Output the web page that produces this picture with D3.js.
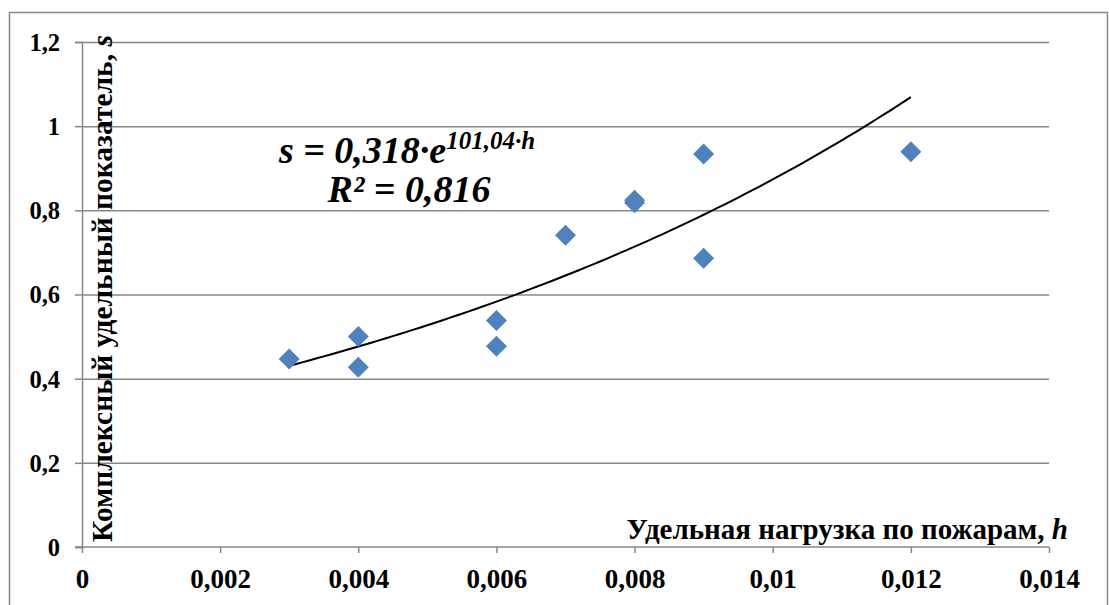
<!DOCTYPE html>
<html>
<head>
<meta charset="utf-8">
<script src="https://cdn.jsdelivr.net/npm/d3@7"></script>
<style>
  html, body { margin: 0; padding: 0; background: #fff; }
  svg { display: block; }
</style>
</head>
<body>
<svg id="chart" width="1109" height="605"></svg>
<script>
// Observations: specific fire load h vs. complex specific indicator s
const loadH = [0.003, 0.004, 0.004, 0.006, 0.006, 0.007, 0.008, 0.008, 0.009, 0.009, 0.012];
const indexS = [0.447, 0.500, 0.427, 0.538, 0.477, 0.741, 0.818, 0.824, 0.934, 0.686, 0.939];

// Exponential trend s = a·e^(b·h)
const trendA = 0.318;
const trendB = 101.04;
const trendR2 = "0,816";

const xTicks = [0, 0.002, 0.004, 0.006, 0.008, 0.010, 0.012, 0.014];
const xTickLabels = ["0", "0,002", "0,004", "0,006", "0,008", "0,01", "0,012", "0,014"];
const yTicks = [0, 0.2, 0.4, 0.6, 0.8, 1.0, 1.2];
const yTickLabels = ["0", "0,2", "0,4", "0,6", "0,8", "1", "1,2"];

const FONT = "'Liberation Serif', 'Times New Roman', Times, 'DejaVu Serif', serif";
const svg = d3.select("#chart")
  .attr("font-family", FONT).attr("font-weight", "bold");
const W = 1109, H = 605;
const gridColor = "#878787";
const pointColor = "#4F81BD";

svg.append("rect").attr("width", W).attr("height", H).attr("fill", "#fff");

// chart frame (runs past the bottom edge)
svg.append("rect")
  .attr("x", 9.5).attr("y", 12.5).attr("width", 1098).attr("height", 640)
  .attr("fill", "none").attr("stroke", "#8a8a8a").attr("stroke-width", 1.5);

const x = d3.scaleLinear().domain([0, 0.014]).range([82, 1049]);
const y = d3.scaleLinear().domain([0, 1.2]).range([547, 42]);

function txt(sel, size) {
  return sel.attr("font-family", FONT).style("font-family", FONT).style("font-weight", "bold")
    .style("font-size", size + "px").attr("fill", "#000");
}

// horizontal gridlines + y ticks
const yAxis = d3.axisLeft(y).tickValues(yTicks).tickSize(7).tickFormat((d, i) => yTickLabels[i]);
const gy = svg.append("g").attr("transform", `translate(${x(0)},0)`).call(yAxis)
  .attr("font-family", FONT);
gy.select(".domain").attr("stroke", gridColor).attr("stroke-width", 1.5);
gy.selectAll(".tick line").attr("stroke", gridColor).attr("stroke-width", 1.5);
gy.selectAll(".tick").filter(d => d > 0).append("line")
  .attr("x1", 0).attr("x2", x(0.014) - x(0))
  .attr("stroke", gridColor).attr("stroke-width", 1.5);
txt(gy.selectAll(".tick text"), 24.5)
  .attr("x", -22).attr("dy", "0.34em");

// x axis
const xAxis = d3.axisBottom(x).tickValues(xTicks).tickSize(6).tickSizeOuter(0).tickFormat((d, i) => xTickLabels[i]);
const gx = svg.append("g").attr("transform", `translate(0,${y(0)})`).call(xAxis)
  .attr("font-family", FONT);
gx.select(".domain").attr("stroke", gridColor).attr("stroke-width", 1.5)
  .attr("d", `M${x(0) - 7},0H${x(0.014)}`);
gx.selectAll(".tick line").attr("stroke", gridColor).attr("stroke-width", 1.5);
txt(gx.selectAll(".tick text"), 27)
  .attr("y", 41).attr("dy", 0);

// trend curve
const hs = d3.range(0.003, 0.012 + 1e-9, 0.0001);
const trendLine = d3.line().x(h => x(h)).y(h => y(trendA * Math.exp(trendB * h)));
svg.append("path").datum(hs)
  .attr("d", trendLine)
  .attr("fill", "none").attr("stroke", "#000").attr("stroke-width", 2);

// points (diamonds)
const diamond = d3.symbol().type(d3.symbolSquare).size(220);
svg.append("g").selectAll("path").data(loadH.map((h, i) => [h, indexS[i]]))
  .join("path")
  .attr("d", diamond)
  .attr("transform", d => `translate(${x(d[0])},${y(d[1])}) rotate(45)`)
  .attr("fill", pointColor);

// equation label
const l1 = txt(svg.append("text"), 38).style("font-style", "italic")
  .attr("x", 407).attr("y", 163).attr("text-anchor", "middle");
l1.append("tspan").text("s = 0,318·e");
l1.append("tspan").attr("dy", -14).style("font-size", "25px").text("101,04·h");
txt(svg.append("text"), 38).style("font-style", "italic")
  .attr("x", 409).attr("y", 202).attr("text-anchor", "middle")
  .text("R² = " + trendR2);

// axis titles
const xt = txt(svg.append("text"), 29)
  .attr("x", 1068).attr("y", 539).attr("text-anchor", "end");
xt.append("tspan").text("Удельная нагрузка по пожарам, ");
xt.append("tspan").style("font-style", "italic").text("h");

const yt = txt(svg.append("text"), 29.5)
  .attr("transform", "translate(112,542) rotate(-90)").attr("text-anchor", "start");
yt.append("tspan").text("Комплексный удельный показатель, ");
yt.append("tspan").style("font-style", "italic").text("s");
</script>
</body>
</html>
